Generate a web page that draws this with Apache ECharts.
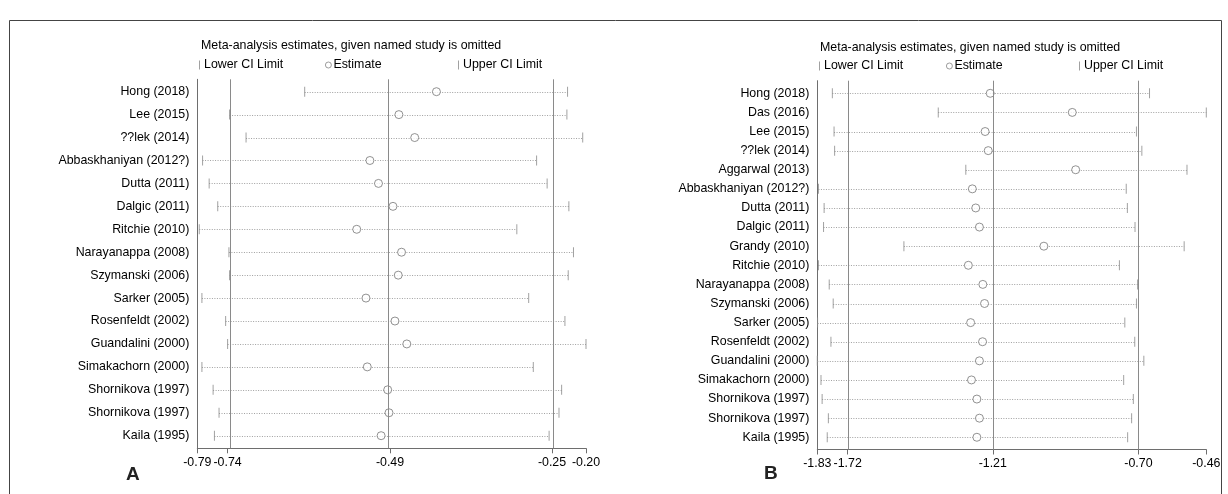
<!DOCTYPE html>
<html>
<head>
<meta charset="utf-8">
<script src="https://cdn.jsdelivr.net/npm/echarts@6/dist/echarts.min.js"></script>
<style>
  html, body { margin: 0; padding: 0; background: #fff; }
  #chart { width: 1228px; height: 494px; }
</style>
</head>
<body>
<div id="chart"></div>
<script>
// panel A
var studiesA = ['Hong (2018)', 'Lee (2015)', '??lek (2014)', 'Abbaskhaniyan (2012?)', 'Dutta (2011)', 'Dalgic (2011)',
  'Ritchie (2010)', 'Narayanappa (2008)', 'Szymanski (2006)', 'Sarker (2005)', 'Rosenfeldt (2002)', 'Guandalini (2000)',
  'Simakachorn (2000)', 'Shornikova (1997)', 'Shornikova (1997)', 'Kaila (1995)'];
var lowerA = [-0.627, -0.741, -0.716, -0.782, -0.772, -0.759, -0.787, -0.742, -0.741, -0.783, -0.747, -0.744, -0.783, -0.766, -0.757, -0.764];
var estA   = [-0.427, -0.484, -0.460, -0.528, -0.515, -0.493, -0.548, -0.480, -0.485, -0.534, -0.490, -0.472, -0.532, -0.501, -0.499, -0.511];
var upperA = [-0.228, -0.229, -0.205, -0.275, -0.259, -0.226, -0.305, -0.219, -0.227, -0.287, -0.232, -0.200, -0.280, -0.237, -0.241, -0.256];
var refLinesA = [-0.744, -0.4975, -0.2516];
var ticksA = [-0.79, -0.744, -0.4975, -0.2516, -0.20];
var tickLabelsA = ['-0.79', '-0.74', '-0.49', '-0.25', '-0.20'];

// panel B
var studiesB = ['Hong (2018)', 'Das (2016)', 'Lee (2015)', '??lek (2014)', 'Aggarwal (2013)', 'Abbaskhaniyan (2012?)',
  'Dutta (2011)', 'Dalgic (2011)', 'Grandy (2010)', 'Ritchie (2010)', 'Narayanappa (2008)', 'Szymanski (2006)',
  'Sarker (2005)', 'Rosenfeldt (2002)', 'Guandalini (2000)', 'Simakachorn (2000)', 'Shornikova (1997)', 'Shornikova (1997)', 'Kaila (1995)'];
var lowerB = [-1.777, -1.404, -1.771, -1.769, -1.307, -1.826, -1.806, -1.808, -1.525, -1.826, -1.788, -1.774, -1.829, -1.782, -1.830, -1.817, -1.813, -1.791, -1.795];
var estB   = [-1.221, -0.932, -1.239, -1.228, -0.920, -1.284, -1.272, -1.259, -1.032, -1.298, -1.247, -1.241, -1.290, -1.248, -1.259, -1.287, -1.268, -1.259, -1.268];
var upperB = [-0.660, -0.460, -0.706, -0.687, -0.528, -0.742, -0.738, -0.711, -0.538, -0.766, -0.702, -0.706, -0.747, -0.712, -0.680, -0.751, -0.717, -0.723, -0.737];
var refLinesB = [-1.723, -1.212, -0.699];
var ticksB = [-1.83, -1.723, -1.212, -0.699, -0.46];
var tickLabelsB = ['-1.83', '-1.72', '-1.21', '-0.70', '-0.46'];

var FONT = 'Liberation Sans, Arial, sans-serif';
var FS = 12.4;
var GREY = '#8a8a8a';
var AXIS = '#6e6e6e';

var myChart = echarts.init(document.getElementById('chart'));

function rows(n) {
  var r = [];
  for (var i = 1; i <= n; i++) r.push(i);
  return r;
}

function xAxisFor(idx, min, max, ticks, labels) {
  return {
    type: 'value', gridIndex: idx, min: min, max: max,
    splitLine: { show: false },
    axisLine: { show: true, lineStyle: { color: AXIS, width: 1 } },
    axisTick: { show: true, length: 5, customValues: ticks, lineStyle: { color: AXIS } },
    axisLabel: {
      customValues: ticks, margin: 8, color: '#000', fontFamily: FONT, fontSize: FS,
      formatter: function (v) {
        var i = ticks.indexOf(v);
        return i >= 0 ? labels[i] : '';
      }
    }
  };
}

function yAxisFor(idx, min, max, names) {
  return {
    type: 'value', gridIndex: idx, inverse: true, min: min, max: max,
    splitLine: { show: false },
    axisLine: { show: true, lineStyle: { color: AXIS, width: 1 } },
    axisTick: { show: false },
    axisLabel: {
      customValues: rows(names.length), margin: 8, color: '#000', fontFamily: FONT, fontSize: FS,
      formatter: function (v) { return names[Math.round(v) - 1] || ''; }
    }
  };
}

function seriesFor(idx, lower, est, upper, refLines) {
  var ci = [], lo = [], es = [], up = [];
  for (var i = 0; i < lower.length; i++) {
    ci.push([lower[i], upper[i], i + 1]);
    lo.push([lower[i], i + 1]);
    es.push([est[i], i + 1]);
    up.push([upper[i], i + 1]);
  }
  return [
    {
      type: 'custom', xAxisIndex: idx, yAxisIndex: idx, z: 1, clip: false,
      encode: { x: [0, 1], y: 2 },
      data: ci,
      renderItem: function (params, api) {
        var p1 = api.coord([api.value(0), api.value(2)]);
        var p2 = api.coord([api.value(1), api.value(2)]);
        return {
          type: 'line',
          shape: { x1: p1[0], y1: Math.round(p1[1]) + 0.5, x2: p2[0], y2: Math.round(p2[1]) + 0.5 },
          style: { stroke: '#a0a0a0', lineWidth: 1, lineDash: [1, 1.5] }
        };
      },
      markLine: {
        silent: true, symbol: 'none', label: { show: false },
        lineStyle: { color: GREY, width: 1, type: 'solid' },
        data: refLines.map(function (v) { return { xAxis: v }; })
      }
    },
    {
      name: 'Lower CI Limit', type: 'scatter', xAxisIndex: idx, yAxisIndex: idx, z: 3, clip: false,
      symbol: 'rect', symbolSize: [1, 10], itemStyle: { color: GREY }, data: lo
    },
    {
      name: 'Estimate', type: 'scatter', xAxisIndex: idx, yAxisIndex: idx, z: 4, clip: false,
      symbol: 'circle', symbolSize: 8,
      itemStyle: { color: '#fff', borderColor: '#777', borderWidth: 1 }, data: es
    },
    {
      name: 'Upper CI Limit', type: 'scatter', xAxisIndex: idx, yAxisIndex: idx, z: 3, clip: false,
      symbol: 'rect', symbolSize: [1, 10], itemStyle: { color: GREY }, data: up
    }
  ];
}

function legendItem(name, left, top, icon, w, h, circle) {
  return {
    left: left, top: top, padding: 0, itemGap: 0, selectedMode: false,
    itemWidth: w, itemHeight: h,
    data: [{
      name: name, icon: icon,
      itemStyle: circle ? { color: '#fff', borderColor: '#666', borderWidth: 0.8 } : { color: GREY, borderWidth: 0 }
    }],
    textStyle: { color: '#000', fontFamily: FONT, fontSize: FS, padding: [0, 0, 0, circle ? -3 : -1] }
  };
}

var titleText = 'Meta-analysis estimates, given named study is omitted';

option = {
  animation: false,
  backgroundColor: '#fff',
  title: [
    { text: titleText, left: 201, top: 40, padding: 0, textStyle: { color: '#000', fontWeight: 'normal', fontFamily: FONT, fontSize: FS } },
    { text: titleText, left: 820, top: 42, padding: 0, textStyle: { color: '#000', fontWeight: 'normal', fontFamily: FONT, fontSize: FS } }
  ],
  legend: [
    legendItem('Lower CI Limit', 199, 59, 'rect', 1, 9, false),
    legendItem('Estimate', 325, 59, 'circle', 6, 6, true),
    legendItem('Upper CI Limit', 458, 59, 'rect', 1, 9, false),
    legendItem('Lower CI Limit', 819, 60, 'rect', 1, 9, false),
    legendItem('Estimate', 946, 60, 'circle', 6, 6, true),
    legendItem('Upper CI Limit', 1079, 60, 'rect', 1, 9, false)
  ],
  grid: [
    { left: 197.3, top: 79.3, width: 388.7, height: 369 },
    { left: 817.3, top: 80.7, width: 389, height: 368.8 }
  ],
  xAxis: [
    xAxisFor(0, -0.79, -0.20, ticksA, tickLabelsA),
    xAxisFor(1, -1.83, -0.46, ticksB, tickLabelsB)
  ],
  yAxis: [
    yAxisFor(0, 0.46, 16.55, studiesA),
    yAxisFor(1, 0.34, 19.64, studiesB)
  ],
  series: seriesFor(0, lowerA, estA, upperA, refLinesA).concat(seriesFor(1, lowerB, estB, upperB, refLinesB)),
  graphic: [
    { type: 'rect', shape: { x: 9.5, y: 20.5, width: 1212, height: 480 }, style: { fill: 'none', stroke: '#444', lineWidth: 1 }, silent: true },
    { type: 'text', left: 126, top: 465, style: { text: 'A', fill: '#222', font: 'bold 19px Liberation Sans, Arial, sans-serif' } },
    { type: 'text', left: 764, top: 464, style: { text: 'B', fill: '#222', font: 'bold 19px Liberation Sans, Arial, sans-serif' } }
  ]
};

myChart.setOption(option);
</script>
</body>
</html>
